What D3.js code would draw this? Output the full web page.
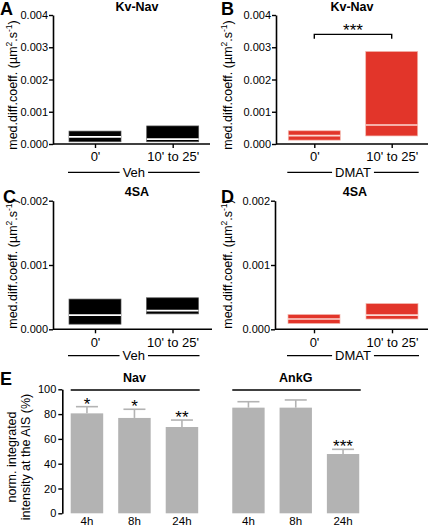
<!DOCTYPE html>
<html><head><meta charset="utf-8">
<script src="https://cdn.jsdelivr.net/npm/d3@7"></script>
<style>
body{margin:0;background:#fff;}
svg{display:block;font-family:"Liberation Sans",Arial,sans-serif;}
</style></head>
<body>
<svg id="c" width="431" height="528"></svg>
<script>
// ---------- DATA ----------
const timeCats = ["0'", "10' to 25'"];
// floating bars: [low, median, high] (µm².s⁻¹)
const panelA_low = [0.00007, 0.00007];
const panelA_med = [0.00022, 0.00015];
const panelA_high = [0.00040, 0.00056];
const panelB_low = [0.00012, 0.00025];
const panelB_med = [0.00026, 0.00059];
const panelB_high = [0.00041, 0.00287];
const panelC_low = [0.00008, 0.00024];
const panelC_med = [0.00022, 0.00029];
const panelC_high = [0.00047, 0.00049];
const panelD_low = [0.00009, 0.00016];
const panelD_med = [0.00016, 0.00022];
const panelD_high = [0.00023, 0.00040];
const ticksAB = [0, 0.001, 0.002, 0.003, 0.004];
const ticksCD = [0, 0.001, 0.002];
const hourCats = ["4h", "8h", "24h"];
const navMean = [80.6, 76.9, 69.6];
const navErr = [5.4, 7.0, 5.6];
const navStars = ["*", "*", "**"];
const ankMean = [85.2, 85.2, 47.8];
const ankErr = [4.8, 6.2, 3.8];
const ankStars = ["", "", "***"];
const ticksE = [0, 20, 40, 60, 80, 100];

// ---------- DRAW ----------
const svg = d3.select("#c");
const RED = "#e2352a";

function letter(x, y, t) {
  svg.append("text").attr("x", x).attr("y", y).attr("font-size", 18)
    .attr("font-weight", "bold").text(t);
}
function title(x, y, t) {
  svg.append("text").attr("x", x).attr("y", y).attr("text-anchor", "middle")
    .attr("font-size", 12.5).attr("font-weight", "bold").text(t);
}
function ylabel(x, yc) {
  const t = svg.append("text").attr("transform", `translate(${x},${yc}) rotate(-90)`)
    .attr("text-anchor", "middle").attr("font-size", 12.5);
  t.append("tspan").text("med.diff.coeff. (µm");
  t.append("tspan").attr("font-size", 8.5).attr("dy", -5).text("2");
  t.append("tspan").attr("dy", 5).text(".s");
  t.append("tspan").attr("font-size", 8.5).attr("dy", -5).text("-1");
  t.append("tspan").attr("dy", 5).text(")");
}

function boxPanel(p) {
  const y = d3.scaleLinear().domain(p.ydom).range([p.yBase, p.yTop]);
  const x = d3.scalePoint().domain(timeCats).range(p.centers);
  const g = svg.append("g");
  // y axis
  const ya = g.append("g").attr("transform", `translate(${p.ax},0)`)
    .call(d3.axisLeft(y).tickValues(p.ticks).tickFormat(d3.format(".3f")).tickSize(4).tickSizeOuter(0));
  ya.select(".domain").attr("stroke-width", 1.6);
  ya.selectAll(".tick line").attr("stroke-width", 1.4);
  ya.selectAll(".tick text").attr("font-size", 11).attr("font-family", "Liberation Sans, Arial, sans-serif").attr("x", -5);
  // x axis
  const xa = g.append("g").attr("transform", `translate(0,${p.yBase})`)
    .call(d3.axisBottom(x).tickSize(4).tickSizeOuter(0).tickPadding(4));
  xa.select(".domain").remove();
  xa.selectAll(".tick line").attr("stroke-width", 1.4);
  xa.selectAll(".tick text").attr("font-size", 13).attr("font-family", "Liberation Sans, Arial, sans-serif");
  g.append("line").attr("x1", p.ax).attr("x2", p.axEnd).attr("y1", p.yBase).attr("y2", p.yBase)
    .attr("stroke", "#000").attr("stroke-width", 1.6);
  // boxes
  const bw = 52;
  const data = timeCats.map((c, i) => ({c, lo: p.low[i], md: p.med[i], hi: p.high[i]}));
  g.selectAll("rect.box").data(data).join("rect")
    .attr("x", d => x(d.c) - bw / 2).attr("width", bw)
    .attr("y", d => y(d.hi)).attr("height", d => y(d.lo) - y(d.hi))
    .attr("fill", p.color)
    .attr("stroke", p.color === "#000" ? "#555" : "#f3b7ae").attr("stroke-width", 0.7);
  g.selectAll("line.med").data(data).join("line")
    .attr("x1", d => x(d.c) - bw / 2).attr("x2", d => x(d.c) + bw / 2)
    .attr("y1", d => y(d.md)).attr("y2", d => y(d.md))
    .attr("stroke", p.color === "#000" ? "#fff" : "#fbd9d3").attr("stroke-width", 1.6);
  // group label
  const gx0 = x(timeCats[0]) - bw / 2 - 1, gx1 = x(timeCats[1]) + bw / 2 + 1;
  const gc = (gx0 + gx1) / 2;
  const gt = g.append("text").attr("x", gc).attr("y", p.groupY + 4.5).attr("text-anchor", "middle")
    .attr("font-size", 13).text(p.group);
  const w = gt.node().getComputedTextLength();
  g.append("line").attr("x1", gx0).attr("x2", gc - w / 2 - 3).attr("y1", p.groupY).attr("y2", p.groupY)
    .attr("stroke", "#000").attr("stroke-width", 1.3);
  g.append("line").attr("x1", gc + w / 2 + 3).attr("x2", gx1).attr("y1", p.groupY).attr("y2", p.groupY)
    .attr("stroke", "#000").attr("stroke-width", 1.3);
  return {x, y};
}

// Panel A
letter(0, 15, "A");
title(137, 11, "Kv-Nav");
ylabel(17, 85);
boxPanel({ax: 53, axEnd: 210, yTop: 15, yBase: 144, ydom: [0, 0.004], ticks: ticksAB,
  centers: [95, 172.7], low: panelA_low, med: panelA_med, high: panelA_high,
  color: "#000", group: "Veh", groupY: 172.3});

// Panel B
letter(221, 15, "B");
title(352, 11, "Kv-Nav");
ylabel(232, 85);
const pb = boxPanel({ax: 276, axEnd: 428, yTop: 15, yBase: 144, ydom: [0, 0.004], ticks: ticksAB,
  centers: [314.3, 391.7], low: panelB_low, med: panelB_med, high: panelB_high,
  color: RED, group: "DMAT", groupY: 172.3});
// significance bracket
{
  const by = pb.y(0.0034);
  const bx0 = pb.x(timeCats[0]), bx1 = pb.x(timeCats[1]);
  svg.append("path").attr("d", `M${bx0},${by + 4.5}V${by}H${bx1}V${by + 4.5}`)
    .attr("fill", "none").attr("stroke", "#000").attr("stroke-width", 1.4);
  svg.append("text").attr("x", (bx0 + bx1) / 2).attr("y", by + 2).attr("text-anchor", "middle")
    .attr("font-size", 17).text("***");
}

// Panel C
letter(3, 203, "C");
title(137, 196, "4SA");
ylabel(17, 264);
boxPanel({ax: 53, axEnd: 212, yTop: 200.7, yBase: 329.3, ydom: [0, 0.002], ticks: ticksCD,
  centers: [95, 172.5], low: panelC_low, med: panelC_med, high: panelC_high,
  color: "#000", group: "Veh", groupY: 355.7});

// Panel D
letter(221, 203, "D");
title(355, 196, "4SA");
ylabel(232, 264);
boxPanel({ax: 275, axEnd: 428, yTop: 200.7, yBase: 329.3, ydom: [0, 0.002], ticks: ticksCD,
  centers: [314, 392], low: panelD_low, med: panelD_med, high: panelD_high,
  color: RED, group: "DMAT", groupY: 355.7});

// Panel E
letter(0, 385, "E");
{
  const y = d3.scaleLinear().domain([0, 100]).range([513.3, 389.3]);
  const ya = svg.append("g").attr("transform", "translate(62.3,0)")
    .call(d3.axisLeft(y).tickValues(ticksE).tickSize(4).tickSizeOuter(0));
  ya.select(".domain").attr("stroke-width", 1.6);
  ya.selectAll(".tick line").attr("stroke-width", 1.4);
  ya.selectAll(".tick text").attr("font-size", 11).attr("font-family", "Liberation Sans, Arial, sans-serif").attr("x", -6);
  const yl = svg.append("text").attr("transform", "translate(0,457) rotate(-90)")
    .attr("text-anchor", "middle").attr("font-size", 12.5);
  yl.append("tspan").attr("x", 0).attr("y", 16).text("norm. integrated");
  yl.append("tspan").attr("x", 0).attr("y", 30).text("intensity at the AIS (%)");

  const GRAY = "#b3b3b3";
  function group(range, means, errs, stars, name) {
    const x = d3.scaleBand().domain(hourCats).range(range).paddingInner(0.316).paddingOuter(0.16);
    const data = hourCats.map((c, i) => ({c, m: means[i], e: errs[i], s: stars[i]}));
    const g = svg.append("g");
    g.selectAll("rect").data(data).join("rect")
      .attr("x", d => x(d.c)).attr("width", x.bandwidth())
      .attr("y", d => y(d.m)).attr("height", d => y(0) - y(d.m)).attr("fill", GRAY);
    g.selectAll("line.eb").data(data).join("line")
      .attr("x1", d => x(d.c) + x.bandwidth() / 2).attr("x2", d => x(d.c) + x.bandwidth() / 2)
      .attr("y1", d => y(d.m)).attr("y2", d => y(d.m + d.e)).attr("stroke", GRAY).attr("stroke-width", 1.6);
    g.selectAll("line.cap").data(data).join("line")
      .attr("x1", d => x(d.c) + x.bandwidth() / 2 - 11).attr("x2", d => x(d.c) + x.bandwidth() / 2 + 11)
      .attr("y1", d => y(d.m + d.e)).attr("y2", d => y(d.m + d.e)).attr("stroke", GRAY).attr("stroke-width", 1.6);
    g.selectAll("text.star").data(data).join("text")
      .attr("x", d => x(d.c) + x.bandwidth() / 2).attr("y", d => y(d.m + d.e) + 3)
      .attr("text-anchor", "middle").attr("font-size", 17).text(d => d.s);
    g.selectAll("text.lab").data(data).join("text")
      .attr("x", d => x(d.c) + x.bandwidth() / 2).attr("y", 524.5)
      .attr("text-anchor", "middle").attr("font-size", 11.5).text(d => d.c);
    const x0 = x(hourCats[0]), x1 = x(hourCats[2]) + x.bandwidth();
    g.append("line").attr("x1", x0).attr("x2", x1 + 1.5).attr("y1", 390).attr("y2", 390)
      .attr("stroke", "#000").attr("stroke-width", 1.4);
    g.append("text").attr("x", (x0 + x1) / 2).attr("y", 382).attr("text-anchor", "middle")
      .attr("font-size", 12.5).attr("font-weight", "bold").text(name);
  }
  group([63.1, 205.8], navMean, navErr, navStars, "Nav");
  group([224.7, 366.8], ankMean, ankErr, ankStars, "AnkG");
}
</script>
</body></html>
